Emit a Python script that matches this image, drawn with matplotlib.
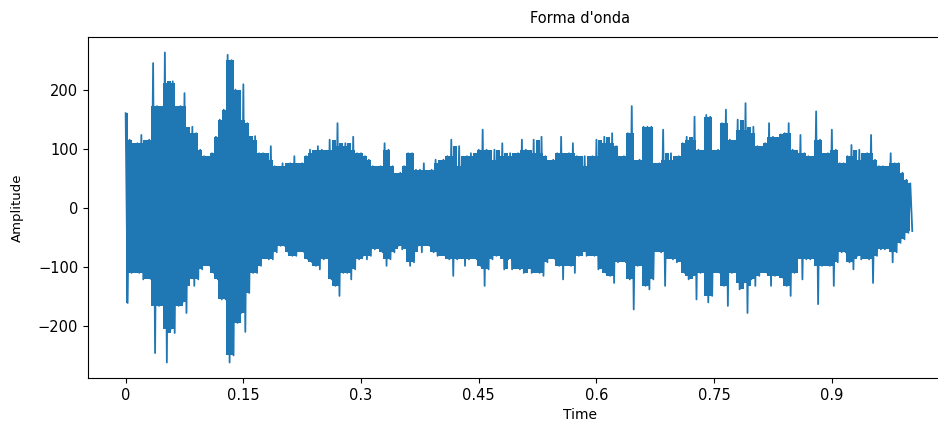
import numpy as np
import matplotlib
matplotlib.use("Agg")
import matplotlib.pyplot as plt

# peak envelope of the waveform, read every 5 ms from 0 to 1.0 s
upper = [161, 116, 93, 110, 124, 93, 116, 246, 173, 167,
         264, 212, 215, 167, 173, 195, 110, 138, 127, 99,
         88, 82, 93, 121, 150, 167, 260, 251, 201, 150,
         210, 144, 116, 122, 93, 93, 82, 105, 71, 60,
         76, 71, 76, 88, 71, 76, 88, 99, 93, 105,
         99, 93, 116, 99, 144, 105, 110, 99, 121, 93,
         93, 88, 82, 71, 65, 71, 110, 99, 71, 54,
         60, 71, 93, 93, 65, 65, 76, 60, 65, 82,
         76, 82, 88, 116, 71, 105, 71, 88, 93, 88,
         99, 133, 99, 82, 99, 82, 110, 88, 93, 82,
         93, 116, 99, 88, 116, 93, 121, 88, 76, 82,
         93, 121, 88, 93, 110, 88, 71, 88, 71, 88,
         116, 65, 121, 110, 127, 105, 82, 88, 127, 173,
         76, 82, 138, 138, 138, 71, 76, 133, 82, 93,
         76, 88, 110, 121, 116, 155, 99, 82, 158, 155,
         88, 99, 144, 167, 116, 76, 150, 133, 178, 127,
         138, 105, 99, 110, 144, 121, 93, 125, 127, 144,
         99, 82, 124, 93, 88, 76, 164, 116, 76, 93,
         133, 99, 76, 76, 88, 107, 76, 99, 82, 93,
         124, 82, 71, 71, 65, 93, 76, 76, 60, 48,
         42]
lower = [-161, -110, -98, -110, -121, -89, -121, -246, -166, -155,
         -262, -205, -212, -166, -160, -178, -100, -132, -121, -104,
         -87, -98, -110, -121, -155, -155, -262, -250, -195, -178,
         -210, -144, -110, -110, -98, -81, -87, -87, -75, -64,
         -64, -75, -81, -81, -70, -75, -87, -92, -98, -104,
         -87, -81, -121, -132, -149, -110, -110, -121, -104, -87,
         -81, -87, -81, -70, -64, -75, -98, -87, -75, -64,
         -70, -64, -98, -92, -64, -75, -53, -64, -75, -81,
         -75, -81, -87, -115, -87, -75, -98, -87, -75, -87,
         -98, -132, -104, -87, -81, -75, -104, -87, -104, -81,
         -104, -110, -98, -110, -104, -110, -115, -92, -70, -87,
         -98, -121, -87, -98, -110, -81, -53, -81, -75, -81,
         -104, -81, -110, -115, -127, -92, -81, -92, -121, -172,
         -98, -81, -132, -138, -121, -70, -75, -132, -75, -87,
         -92, -81, -110, -121, -115, -155, -110, -87, -160, -149,
         -87, -110, -132, -166, -110, -87, -138, -127, -178, -121,
         -132, -115, -98, -110, -132, -115, -92, -118, -132, -149,
         -110, -81, -121, -87, -87, -75, -163, -98, -81, -98,
         -132, -92, -75, -75, -92, -104, -81, -87, -81, -87,
         -127, -81, -70, -70, -64, -92, -75, -59, -53, -42,
         -39]
duration = 1.0
tick_vals = [0, 0.15, 0.3, 0.45, 0.6, 0.75, 0.9]
tick_labels = ["0", "0.15", "0.3", "0.45", "0.6", "0.75", "0.9"]

times = np.linspace(0, duration, len(upper))
step = times[1] - times[0]
up = np.array(upper)
lo = np.array(lower)

# solid core: middle value of each peak and its two neighbours
pad_up = np.pad(up, 1, mode="edge")
pad_lo = np.pad(lo, 1, mode="edge")
core_up = np.median(np.stack([pad_up[:-2], pad_up[1:-1], pad_up[2:]]), axis=0)
core_lo = np.median(np.stack([pad_lo[:-2], pad_lo[1:-1], pad_lo[2:]]), axis=0)

# thin strokes up to every peak
xs = np.empty(2 * len(times))
ys = np.empty(2 * len(times))
xs[0::2] = times
xs[1::2] = times + step / 2
ys[0::2] = up
ys[1::2] = lo

fig = plt.figure(figsize=(9.38, 4.26), dpi=100)
# the reference is cropped on the right, so the axes run past the figure edge
ax = fig.add_axes([0.0938, 0.1127, 1.049, 0.8005])
ax.fill_between(times, core_lo, core_up, step="mid", color="#1f77b4", lw=0)
ax.plot(xs, ys, color="#1f77b4", lw=1.3)
ax.set_xlim(-0.048, 1.206)
ax.set_xticks(tick_vals)
ax.set_xticklabels(tick_labels)
ax.set_yticks([-200, -100, 0, 100, 200])
ax.tick_params(labelsize=10.5)
ax.set_title("Forma d'onda", fontsize=10.5, pad=10)
ax.set_xlabel("Time", fontsize=10)
ax.set_ylabel("Amplitude", fontsize=9.5, labelpad=10)

fig.savefig("out.png", dpi=100)
